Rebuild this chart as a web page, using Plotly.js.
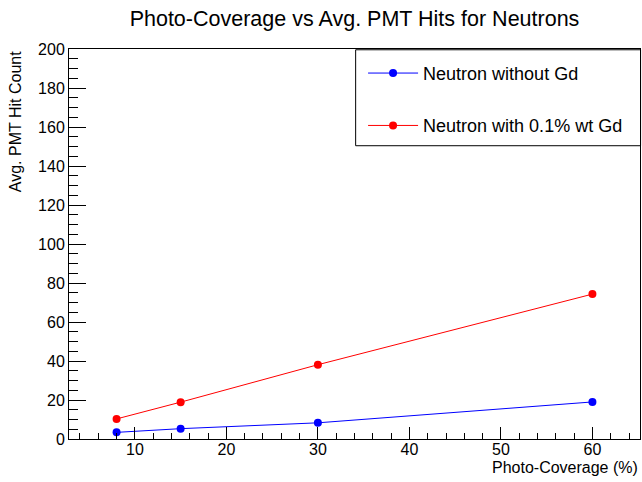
<!DOCTYPE html>
<html>
<head>
<meta charset="utf-8">
<script src="https://cdn.plot.ly/plotly-3.0.1.min.js"></script>
<style>html,body{margin:0;padding:0;background:#fff;}#chart{width:642px;height:482px;}</style>
</head>
<body>
<div id="chart"></div>
<script>
const coverage = [8, 15, 30, 60];
const hitsNoGd = [3.4, 5.3, 8.3, 19.0];
const hitsGd = [10.3, 18.9, 38.1, 74.3];
const seriesNames = ["Neutron without Gd", "Neutron with 0.1% wt Gd"];
const chartTitle = "Photo-Coverage vs Avg. PMT Hits for Neutrons";
const xTitle = "Photo-Coverage (%)";
const yTitle = "Avg. PMT Hit Count";

const font = "Liberation Sans, Arial, Helvetica, sans-serif";
const traces = [
  {x: coverage, y: hitsNoGd, name: seriesNames[0], type: "scatter", mode: "lines+markers",
   line: {color: "#0000ff", width: 1}, marker: {color: "#0000ff", size: 8}, legendgroup: "a"},
  {x: coverage, y: hitsGd, name: seriesNames[1], type: "scatter", mode: "lines+markers",
   line: {color: "#ff0000", width: 1}, marker: {color: "#ff0000", size: 8}, legendgroup: "b"}
];
const L = 69, R = 2, T = 49, B = 43;
const layout = {
  width: 642, height: 482,
  margin: {l: L, r: R, t: T, b: B, pad: 0},
  paper_bgcolor: "#fff", plot_bgcolor: "#fff",
  font: {family: font, size: 16, color: "#000"},
  title: {text: chartTitle, font: {size: 21.5, color: "#000"}, x: 0.5, xref: "paper", y: 1 - 18/482, yref: "container", yanchor: "middle"},
  xaxis: {range: [2.8, 65.2], dtick: 10, tick0: 0, ticks: "inside", ticklen: 12, tickcolor: "#000", tickwidth: 1,
    showline: true, mirror: true, linecolor: "#000", linewidth: 1, showgrid: false, zeroline: false,
    minor: {dtick: 2, tick0: 0, ticks: "inside", ticklen: 6, tickcolor: "#000", showgrid: false},
    tickfont: {size: 16}, ticklabelstandoff: -4},
  yaxis: {range: [0, 200], dtick: 20, tick0: 0, ticks: "inside", ticklen: 17, tickcolor: "#000", tickwidth: 1,
    showline: true, mirror: true, linecolor: "#000", linewidth: 1, showgrid: false, zeroline: false,
    minor: {dtick: 5, tick0: 0, ticks: "inside", ticklen: 9, tickcolor: "#000", showgrid: false},
    tickfont: {size: 16}},
  showlegend: true,
  legend: {x: 0.515, y: 0.985, xanchor: "left", yanchor: "top", bgcolor: "rgba(0,0,0,0)", borderwidth: 0,
    font: {size: 18, color: "#000"}, tracegroupgap: 26, itemwidth: 50},
  shapes: [{type: "rect", xref: "paper", yref: "paper", x0: 0.502, x1: 1.001, y0: 0.752, y1: 0.998,
    line: {color: "#000", width: 1}, fillcolor: "rgba(0,0,0,0)"}],
  annotations: [
    {text: xTitle, xref: "paper", yref: "paper", x: 1, y: -0.072, xanchor: "right", yanchor: "middle", showarrow: false, font: {size: 16}},
    {text: yTitle, xref: "paper", yref: "paper", x: -0.0934, y: 1, xanchor: "center", yanchor: "top", textangle: -90, showarrow: false, font: {size: 16}}
  ]
};
Plotly.newPlot("chart", traces, layout, {displayModeBar: false, staticPlot: true});
</script>
</body>
</html>
